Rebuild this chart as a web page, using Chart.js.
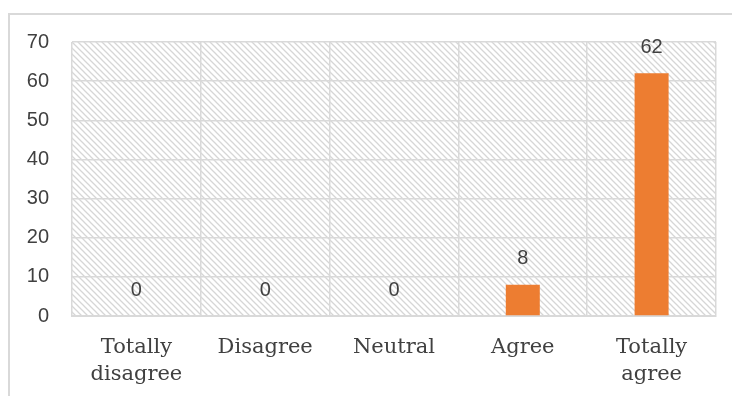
<!DOCTYPE html>
<html>
<head>
<meta charset="utf-8">
<script src="https://cdn.jsdelivr.net/npm/chart.js@4"></script>
<style>
  html, body { margin: 0; padding: 0; background: #fff; overflow: hidden; }
  #wrap { position: relative; width: 732px; height: 396px; }
  #frame { position: absolute; left: 8px; top: 13px; width: 800px; height: 500px; border: 2px solid #d9d9d9; box-sizing: border-box; }
  canvas { position: absolute; left: 0; top: 0; }
</style>
</head>
<body>
<div id="wrap">
  <div id="frame"></div>
  <canvas id="chart" width="732" height="396"></canvas>
</div>
<script>
// chart data
const CATEGORIES = [['Totally', 'disagree'], 'Disagree', 'Neutral', 'Agree', ['Totally', 'agree']];
const VALUES = [0, 0, 0, 8, 62];
const Y_MAX = 70;
const Y_STEP = 10;

const TEXT = '#404040';
const GRID = '#d9d9d9';
const ORANGE = '#ED7D31';

// diagonal hatch for the plot area
function hatch(){
  const c = document.createElement('canvas');
  c.width = 6; c.height = 6;
  const g = c.getContext('2d');
  g.fillStyle = '#fff';
  g.fillRect(0, 0, 6, 6);
  g.strokeStyle = '#d6d6d6';
  g.lineWidth = 1.3;
  g.beginPath();
  g.moveTo(-1, -1); g.lineTo(7, 7);
  g.moveTo(-1, 5); g.lineTo(1, 7);
  g.moveTo(5, -1); g.lineTo(7, 1);
  g.stroke();
  return g.createPattern(c, 'repeat');
}

const plotBg = {
  id: 'plotBg',
  beforeDraw(chart){
    const {ctx, chartArea: a} = chart;
    ctx.save();
    ctx.fillStyle = hatch();
    ctx.fillRect(a.left, a.top, a.right - a.left, a.bottom - a.top);
    ctx.restore();
  }
};

// value labels above bars
const valueLabels = {
  id: 'valueLabels',
  afterDatasetsDraw(chart){
    const ctx = chart.ctx;
    const meta = chart.getDatasetMeta(0);
    ctx.save();
    ctx.fillStyle = TEXT;
    ctx.font = '20px "Liberation Sans", Arial, sans-serif';
    ctx.textAlign = 'center';
    ctx.textBaseline = 'middle';
    meta.data.forEach((bar, i) => {
      ctx.fillText(String(VALUES[i]), bar.x, bar.y - 26);
    });
    ctx.restore();
  }
};

new Chart(document.getElementById('chart'), {
  type: 'bar',
  data: {
    labels: CATEGORIES,
    datasets: [{
      data: VALUES,
      backgroundColor: ORANGE,
      borderWidth: 0,
      categoryPercentage: 1,
      barPercentage: 0.264
    }]
  },
  options: {
    responsive: false,
    animation: false,
    layout: { padding: { left: 0, right: 16, top: 42, bottom: 0 } },
    plugins: { legend: { display: false }, tooltip: { enabled: false } },
    scales: {
      x: {
        grid: { color: GRID, lineWidth: 1.5, drawTicks: false, offset: true },
        border: { color: GRID, width: 2 },
        ticks: {
          color: TEXT,
          padding: 18,
          maxRotation: 0,
          autoSkip: false,
          font: { family: '"DejaVu Serif", serif', size: 21, lineHeight: 1.3 }
        },
        afterFit(s){ s.height = 80; }
      },
      y: {
        min: 0, max: Y_MAX,
        grid: { color: GRID, lineWidth: 1.5, drawTicks: false },
        border: { display: false },
        ticks: {
          stepSize: Y_STEP,
          color: TEXT,
          padding: 23,
          font: { family: '"Liberation Sans", Arial, sans-serif', size: 20 }
        },
        afterFit(s){ s.width = 72; }
      }
    }
  },
  plugins: [plotBg, valueLabels]
});
</script>
</body>
</html>
